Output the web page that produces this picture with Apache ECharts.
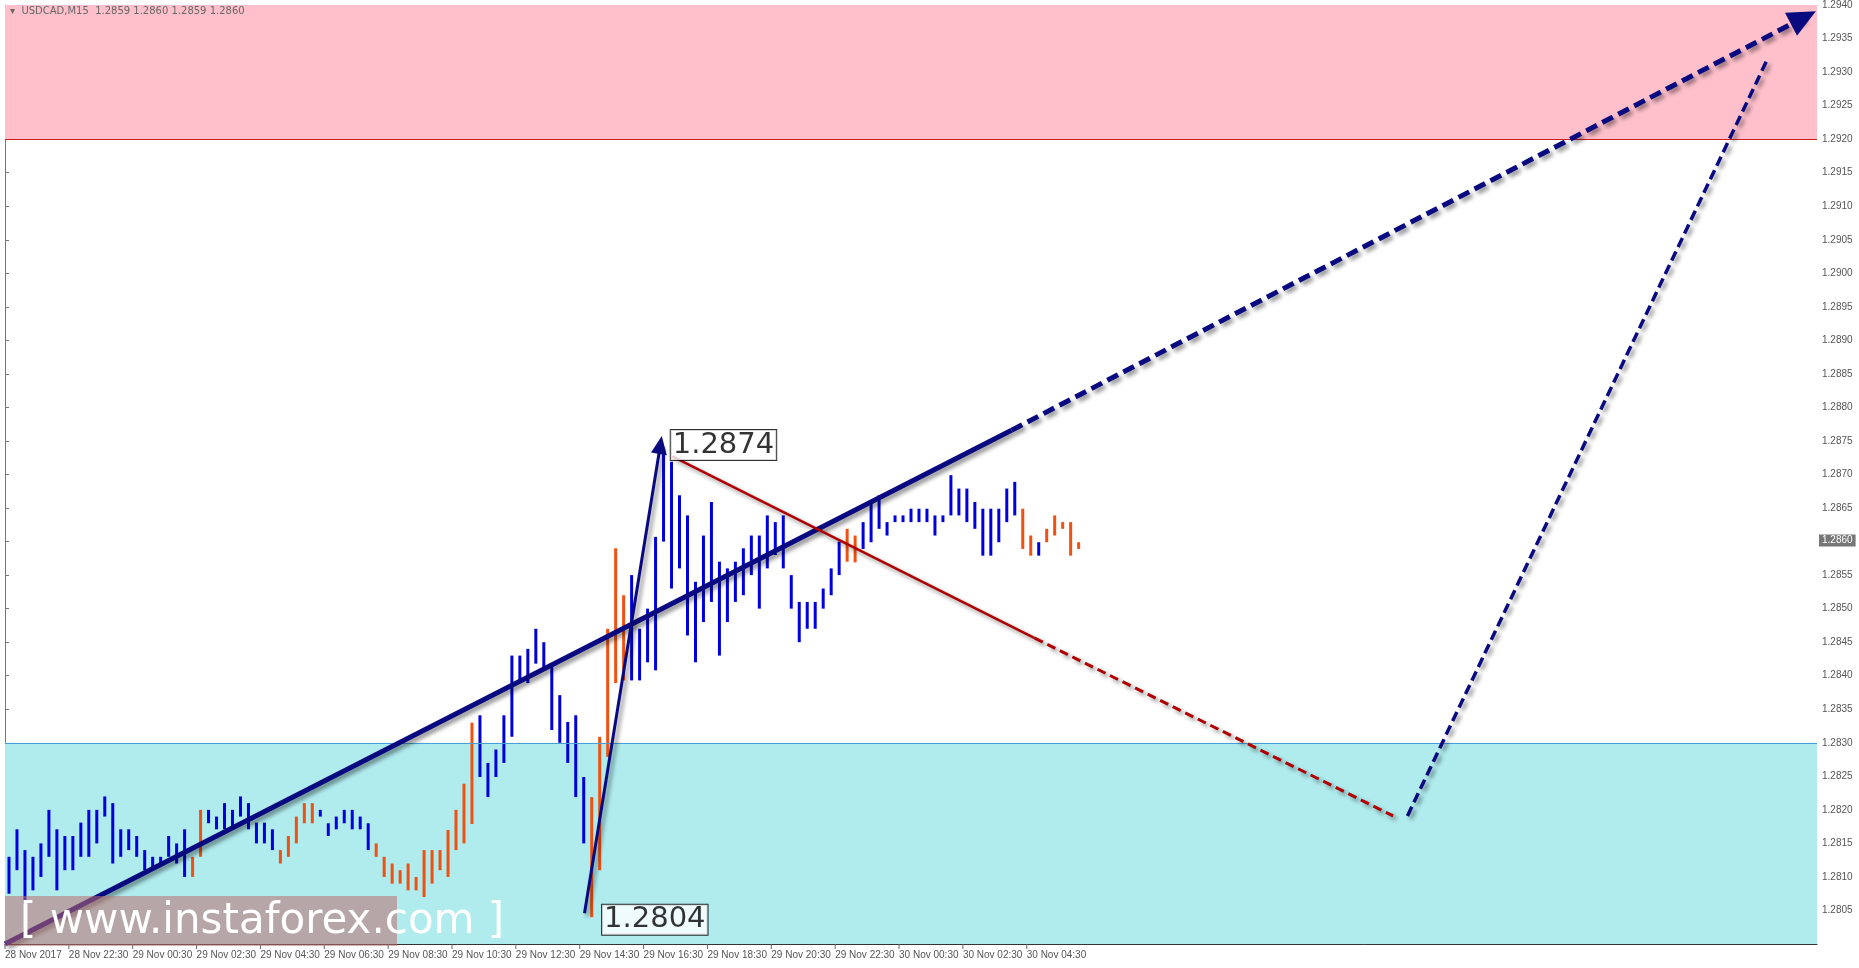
<!DOCTYPE html>
<html><head><meta charset="utf-8">
<script src="https://cdn.jsdelivr.net/npm/echarts@6/dist/echarts.min.js"></script>
<style>html,body{margin:0;padding:0;background:#fff}#c{width:1859px;height:968px}</style>
</head><body><div id="c"></div>
<script>
// Bar highs / lows in pips above 1.2800, direction B=blue, O=orange
const highs = [13,17.1,14,13,15,20,17.1,16.1,16.1,18.1,20,20,22,21,17.1,17.1,16.1,14,13,13,16.1,15,17.1,13,20,20,19,21,20,22,21,18.1,18.1,17.1,14,16.1,19,21,21,20,18,19,20,20,19,18,15,13,12,11,12,10,14,14,14,17,20,23.9,33,34.1,27,29,34.1,43,43,44,47,45,41.8,37.1,33.1,34.1,24.9,21.9,30.9,47,59,52,55,47,50,60.7,74,71.9,66.9,63.9,54,60.9,65.9,57,56,57,59,60.9,60.9,63.9,62.9,63.9,55,51,51,51,53,56,60,61.9,60.9,62.9,65.9,66.9,62.9,63.9,63.9,64.9,64.9,64.9,63.9,63.9,69.9,67.9,67.9,65.9,64.9,64.9,64.9,67.9,68.9,64.9,60.9,59.9,61.9,63.9,62.9,62.9,59.9];
const lows = [7.5,11,6,8,10,13,8,11,11,13,13,15,19,12,13,14,13,11,11,12,13,12,10,10,13,18,17.1,17.1,17.1,19,17.1,15,15,14,12,13,15,18,18,19,16.1,17.1,18,17.1,17.1,14,13,10,9,9,8,8,7,9,11,10,14,15,17.9,24.9,21.9,24.9,27,30.9,38.9,38.9,41.8,40.8,31.9,30,27,21.9,15,4,11,27.9,38.9,39.3,39.3,39.3,42,40.8,60,53,56,46,42,48,51,43,48,51,52,55,50,56,58,56,50,45,47,47,50,52,55,57,56.9,58.9,59.9,61.9,60.9,62.9,62.9,62.9,62.9,62.9,60.9,62.9,63.9,63.9,62.9,61.9,57.9,57.9,59.9,62.9,63.9,58.9,57.9,57.9,59.9,60.9,61.9,57.9,58.9];
const dirs = "BBBBBBBBBBBBBBBBBBBBBBBOOBBBBBBBBBOOOOOBBBBBBBOOOOOOOOOOOOOBBBBBBBBBBBBBBOOOOOBBBBBBBBBBBBBBBBBBBBBBBBBBBOOBBBBBBBBBBBBBBBBBBBBOOBOOOOOOOO";
const tickLabels = ["28 Nov 2017","28 Nov 22:30","29 Nov 00:30","29 Nov 02:30","29 Nov 04:30","29 Nov 06:30","29 Nov 08:30","29 Nov 10:30","29 Nov 12:30","29 Nov 14:30","29 Nov 16:30","29 Nov 18:30","29 Nov 20:30","29 Nov 22:30","30 Nov 00:30","30 Nov 02:30","30 Nov 04:30"];
const slotCount = 227;
const sellZone = [1.2920, 1.2940];
const buyZone = [1.2800, 1.2830];
const trendMain = [[0,1.2800],[126.1,1.28766]];
const trendMainDash = [[126.1,1.28766],[225.3,1.29381]];
const waveUp = [[72.6,1.28046],[82.1,1.28744]];
const redSolid = [[83.6,1.28727],[129.0,1.28456]];
const redDash = [[129.0,1.28456],[173.9,1.28191]];
const blueDash = [[175.7,1.28191],[220.9,1.29322]];
const peakLabel = "1.2874", lowLabel = "1.2804", lastPrice = 1.2860;

const bars = highs.map((h, i) => [i + 0.5, 1.28 + lows[i] / 10000, 1.28 + h / 10000, dirs[i]]);
const ticks = tickLabels.map((t, k) => [k * 8, 1.28]);

const chart = echarts.init(document.getElementById('c'));
const navy = '#0a0a80';
const shadow = {shadowBlur: 4, shadowColor: 'rgba(0,0,0,0.45)', shadowOffsetX: 3, shadowOffsetY: 3};
function seg(pts, color, width, type, arrow, size) {
  return [{coord: pts[0], symbol: 'none', lineStyle: Object.assign({color, width, type}, shadow)},
          {coord: pts[1], symbol: arrow ? 'triangle' : 'none', symbolSize: size || 20, itemStyle: {color}}];
}
function hline(v, color) {
  return [{coord: [0, v], symbol: 'none', lineStyle: {color, width: 1, type: 'solid'}}, {coord: [slotCount, v], symbol: 'none'}];
}
chart.setOption({
  animation: false,
  grid: {left: 5, right: 42, top: 5, bottom: 24},
  xAxis: {type: 'value', min: 0, max: slotCount, interval: 8,
    axisLine: {onZero: false, lineStyle: {color: '#333'}},
    axisTick: {show: false},
    axisLabel: {fontSize: 10, color: '#555', fontFamily: 'Liberation Sans', margin: 6, align: 'left',
      showMinLabel: true, showMaxLabel: false,
      formatter: v => tickLabels[Math.round(v / 8)] || ''},
    splitLine: {show: false}},
  yAxis: {type: 'value', position: 'right', min: 1.28, max: 1.294, interval: 0.0005,
    axisLine: {show: true, lineStyle: {color: '#777'}},
    axisTick: {show: true, length: 4, lineStyle: {color: '#777'}},
    axisLabel: {fontSize: 10, color: '#555', fontFamily: 'Liberation Sans', margin: 5,
      formatter: v => v < 1.28025 ? '' : v.toFixed(4)},
    splitLine: {show: false}},
  series: [
    {type: 'custom', data: bars, z: 3,
      markArea: {silent: true, data: [
        [{coord: [0, sellZone[0]], itemStyle: {color: '#ffc0cb'}}, {coord: [slotCount, sellZone[1]]}],
        [{coord: [0, buyZone[0]], itemStyle: {color: '#b0ecee'}}, {coord: [slotCount, buyZone[1]]}]
      ]},
      renderItem: (params, api) => {
        const x = api.coord([api.value(0), api.value(1)]);
        const y2 = api.coord([api.value(0), api.value(2)]);
        const col = bars[params.dataIndex][3] === 'B' ? '#0000dd' : '#f05010';
        return {type: 'line', shape: {x1: x[0], y1: x[1], x2: x[0], y2: y2[1]},
          style: {stroke: col, lineWidth: 3}};
      }},
    {type: 'custom', data: ticks, clip: false, z: 4,
      renderItem: (params, api) => {
        const p = api.coord([api.value(0), api.value(1)]);
        return {type: 'line', shape: {x1: p[0], y1: p[1], x2: p[0], y2: p[1] + 5}, style: {stroke: '#666', lineWidth: 1}};
      }},
    {type: 'line', data: [], z: 5,
      markLine: {silent: true, label: {show: false}, animation: false, data: [
        hline(sellZone[0], '#cc2020'),
        hline(buyZone[1], '#4a9fd8'),
        seg(trendMain, navy, 5, 'solid', false),
        seg(trendMainDash, navy, 5, [12, 6], true, [26, 28]),
        seg(waveUp, navy, 3, 'solid', true, [16, 18]),
        seg(redSolid, '#b00000', 2.5, 'solid', false),
        seg(redDash, '#b00000', 3, [9, 5], false),
        seg(blueDash, navy, 3.5, [10, 5], false)
      ]}},
    {type: 'scatter', symbolSize: 0, z: 6, data: [[83.4, 1.28744], [74.8, 1.28036]],
      label: {show: true, position: 'right', distance: 0, formatter: p => p.dataIndex === 0 ? peakLabel : lowLabel,
        fontSize: 29, color: '#000', fontFamily: 'Verdana, DejaVu Sans', backgroundColor: '#fff',
        borderColor: '#000', borderWidth: 1, padding: [1, 2, 0, 2]}}
  ],
  graphic: [
    {type: 'rect', left: 5, bottom: 22, shape: {width: 392, height: 50}, style: {fill: 'rgba(190,110,110,0.55)'}, z: 10},
    {type: 'text', left: 20, bottom: 25, style: {text: '[ www.instaforex.com ]', fill: '#fff', fontSize: 42, fontFamily: 'Verdana, DejaVu Sans'}, z: 11},
    {type: 'text', left: 10, top: 6, style: {text: '▾  USDCAD,M15  1.2859 1.2860 1.2859 1.2860', fill: '#666', fontSize: 10, fontFamily: 'DejaVu Sans'}, z: 11}
  ]
});
const py = chart.convertToPixel({yAxisIndex: 0}, lastPrice);
chart.setOption({graphic: [{}, {}, {},
  {type: 'text', left: 1819, top: py - 7, style: {text: lastPrice.toFixed(4), fill: '#fff', fontSize: 10, fontFamily: 'Liberation Sans', backgroundColor: '#777', padding: [1, 3]}, z: 11}]});
</script></body></html>
